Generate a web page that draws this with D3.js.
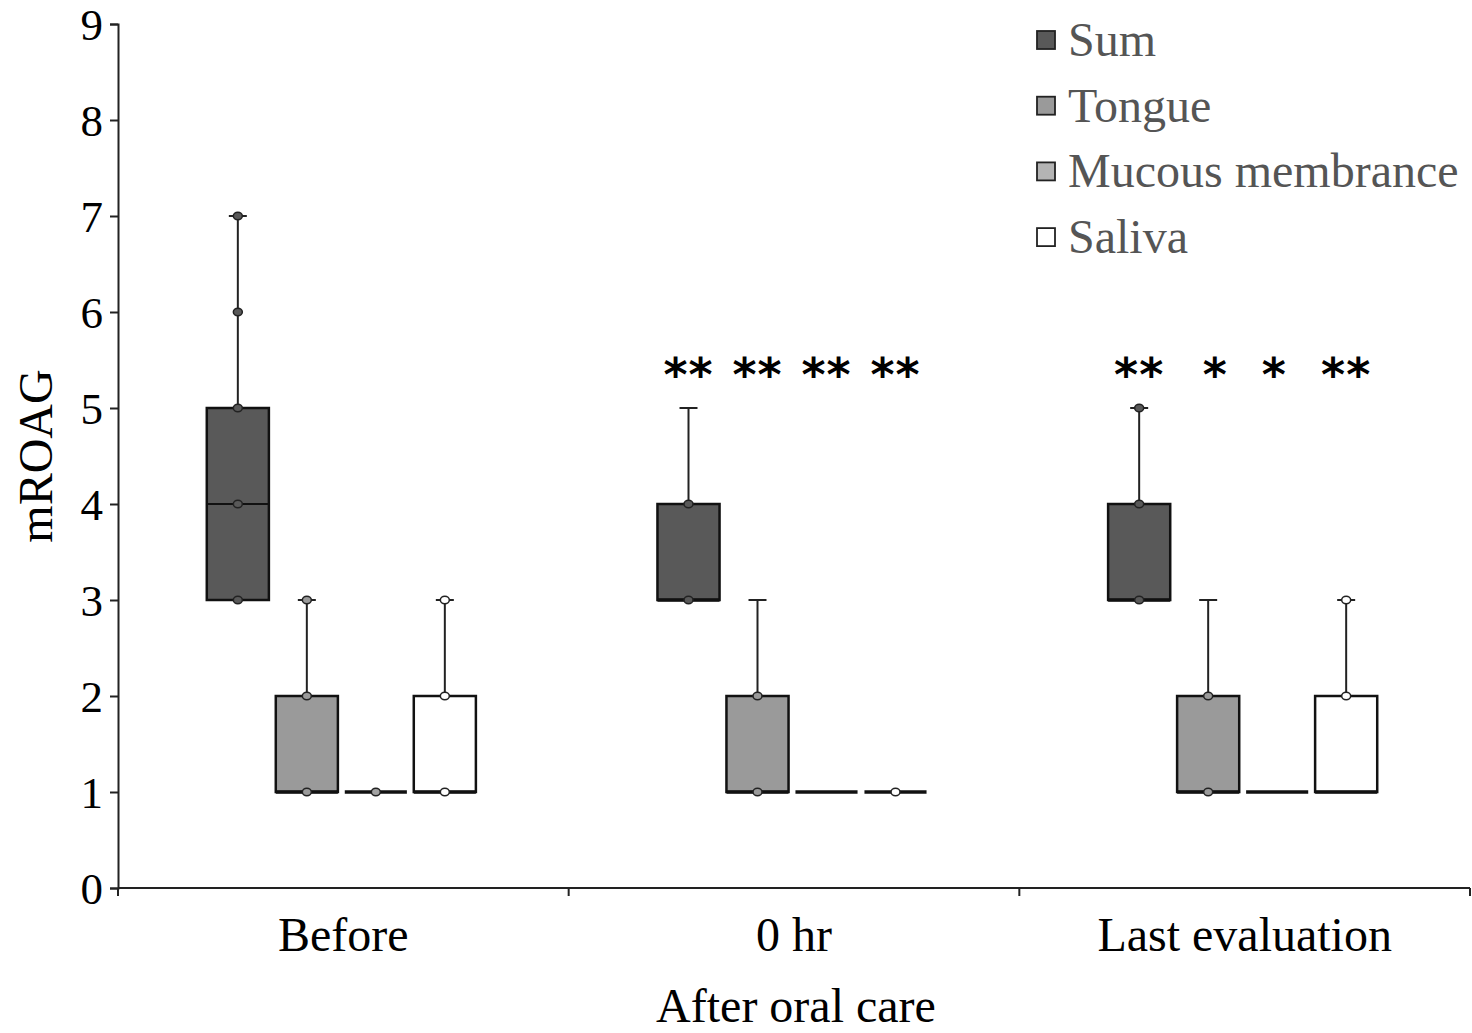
<!DOCTYPE html>
<html>
<head>
<meta charset="utf-8">
<script src="https://cdn.jsdelivr.net/npm/d3@7"></script>
<style>
html,body{margin:0;padding:0;background:#fff;}
svg{display:block;}
</style>
</head>
<body>
<svg id="chart" width="1472" height="1033"></svg>
<script>
// ---- data ----
const categories = ["Before", "0 hr", "Last evaluation"];
const series = ["Sum", "Tongue", "Mucous membrance", "Saliva"];
const yTicks = [0, 1, 2, 3, 4, 5, 6, 7, 8, 9];
// per category, per series
const q1 = [[3, 1, 1, 1], [3, 1, 1, 1], [3, 1, 1, 1]];
const median = [[4, 1, 1, 1], [3, 1, 1, 1], [3, 1, 1, 1]];
const q3 = [[5, 2, 1, 2], [4, 2, 1, 1], [4, 2, 1, 2]];
const whiskerHigh = [[7, 3, 1, 3], [5, 3, 1, 1], [5, 3, 1, 3]];
const points = [
  [[3, 4, 5, 6, 7], [1, 2, 3], [1], [1, 2, 3]],
  [[3, 4], [1, 2], [], [1]],
  [[3, 4, 5], [1, 2], [], [2, 3]]
];
const stars = [["", "", "", ""], ["**", "**", "**", "**"], ["**", "*", "*", "**"]];

// ---- styles ----
const boxFill = ["#595959", "#9a9a9a", "#a3a3a3", "#ffffff"];
const legendFill = ["#595959", "#9a9a9a", "#b4b4b4", "#ffffff"];
const font = "'Liberation Serif','Times New Roman',serif";

const svg = d3.select("#chart");
const mLeft = 118, mRight = 1470, mTop = 24, mBottom = 888;

const y = d3.scaleLinear().domain([0, 9]).range([mBottom, mTop]);
const x = d3.scaleBand().domain(categories).range([mLeft, mRight]);
const xs = d3.scaleBand().domain(series).range([-140, 136]).paddingInner(0.1).paddingOuter(0.05);

// axes
const yAxis = svg.append("g").attr("transform", `translate(${mLeft},0)`)
  .call(d3.axisLeft(y).tickValues(yTicks).tickSize(8).tickPadding(7).tickFormat(d3.format("d")));
yAxis.select(".domain").attr("stroke", "#222").attr("stroke-width", 2);
yAxis.selectAll(".tick line").attr("stroke", "#222").attr("stroke-width", 2);
yAxis.selectAll(".tick text").attr("font-family", font).attr("font-size", 45).attr("fill", "#000").attr("dy", "0.34em");

const xAxisG = svg.append("g").attr("transform", `translate(0,${mBottom})`);
xAxisG.append("line").attr("x1", mLeft).attr("x2", mRight).attr("stroke", "#222").attr("stroke-width", 2);
const bounds = categories.map(c => x(c)).concat([mRight]);
xAxisG.selectAll("line.sep").data(bounds).join("line").attr("class", "sep")
  .attr("x1", d => d).attr("x2", d => d).attr("y1", 0).attr("y2", 8)
  .attr("stroke", "#222").attr("stroke-width", 2);
xAxisG.selectAll("text.cat").data(categories).join("text").attr("class", "cat")
  .attr("x", d => x(d) + x.bandwidth() / 2).attr("y", 63)
  .attr("text-anchor", "middle").attr("font-family", font).attr("font-size", 48).attr("fill", "#000")
  .text(d => d);

svg.append("text").attr("x", 796).attr("y", 1022).attr("text-anchor", "middle")
  .attr("font-family", font).attr("font-size", 48).attr("fill", "#000").text("After oral care");
svg.append("text").attr("transform", `translate(52,${y(4.5)}) rotate(-90)`).attr("text-anchor", "middle")
  .attr("font-family", font).attr("font-size", 48).attr("fill", "#000").text("mROAG");

// boxes
categories.forEach((cat, ci) => {
  const cx0 = x(cat) + x.bandwidth() / 2;
  series.forEach((s, si) => {
    const bx = cx0 + xs(s);
    const bw = xs.bandwidth();
    const cx = bx + bw / 2;
    const g = svg.append("g");
    if (whiskerHigh[ci][si] > q3[ci][si]) {
      g.append("line").attr("x1", cx).attr("x2", cx)
        .attr("y1", y(q3[ci][si])).attr("y2", y(whiskerHigh[ci][si]))
        .attr("stroke", "#222").attr("stroke-width", 2);
      g.append("line").attr("x1", cx - 9).attr("x2", cx + 9)
        .attr("y1", y(whiskerHigh[ci][si])).attr("y2", y(whiskerHigh[ci][si]))
        .attr("stroke", "#222").attr("stroke-width", 2);
    }
    if (q3[ci][si] > q1[ci][si]) {
      g.append("rect").attr("x", bx).attr("y", y(q3[ci][si]))
        .attr("width", bw).attr("height", y(q1[ci][si]) - y(q3[ci][si]))
        .attr("fill", boxFill[si]).attr("stroke", "#111").attr("stroke-width", 2.5);
      g.append("line").attr("x1", bx).attr("x2", bx + bw)
        .attr("y1", y(median[ci][si])).attr("y2", y(median[ci][si]))
        .attr("stroke", "#111").attr("stroke-width", median[ci][si] === q1[ci][si] ? 3.5 : 2);
    } else {
      g.append("line").attr("x1", bx).attr("x2", bx + bw)
        .attr("y1", y(q1[ci][si])).attr("y2", y(q1[ci][si]))
        .attr("stroke", "#111").attr("stroke-width", 3.5);
    }
    g.selectAll("ellipse").data(points[ci][si]).join("ellipse")
      .attr("cx", cx).attr("cy", d => y(d)).attr("rx", 4.5).attr("ry", 3.8)
      .attr("fill", boxFill[si]).attr("stroke", "#222").attr("stroke-width", 1.5);
    if (stars[ci][si]) {
      const dx = stars[ci][si].length === 1 ? (si === 1 ? 7 : -3) : 0;
      svg.append("text").attr("x", cx + dx).attr("y", 391).attr("text-anchor", "middle")
        .attr("font-family", "'DejaVu Sans',sans-serif").attr("font-size", 46).attr("font-weight", "bold")
        .attr("fill", "#000").attr("letter-spacing", 1)
        .text(stars[ci][si]);
    }
  });
});

// legend
const lg = svg.append("g").attr("transform", "translate(1037,0)");
series.forEach((s, i) => {
  const cy = 40 + i * 65.7;
  lg.append("rect").attr("x", 0).attr("y", cy - 9).attr("width", 18).attr("height", 18)
    .attr("fill", legendFill[i]).attr("stroke", "#222").attr("stroke-width", 1.8);
  lg.append("text").attr("x", 31).attr("y", cy + 16).attr("font-family", font).attr("font-size", 48)
    .attr("fill", "#555").text(s);
});
</script>
</body>
</html>
